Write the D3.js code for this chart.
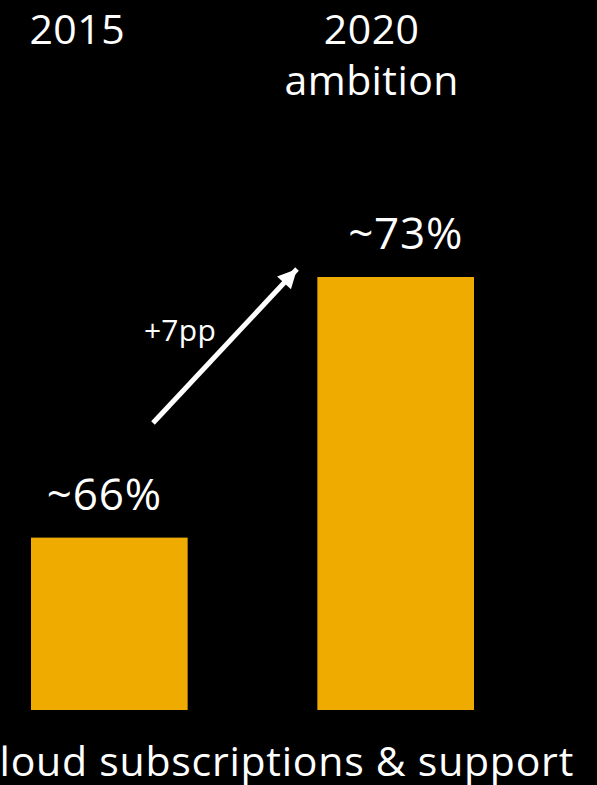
<!DOCTYPE html>
<html>
<head>
<meta charset="utf-8">
<script src="https://cdn.jsdelivr.net/npm/d3@7"></script>
<style>
  html, body { margin: 0; padding: 0; background: #000; }
  svg { display: block; }
  text { font-family: "Open Sans", "Noto Sans", "DejaVu Sans", sans-serif; fill: #fff; }
</style>
</head>
<body>
<script>
// Share of cloud subscriptions & support, 2015 vs. 2020 ambition
const categories = ["2015", "2020"];
const categorySubtitles = ["", "ambition"];
const values = [66, 73];
const valueLabels = ["~66%", "~73%"];
const deltaLabel = "+7pp";
const footerLabel = "Cloud subscriptions & support";

const W = 597, H = 785;
const svg = d3.select("body").append("svg").attr("width", W).attr("height", H);
svg.append("rect").attr("width", W).attr("height", H).attr("fill", "#000");

const x = d3.scaleBand().domain(categories).range([31, 474]).paddingInner(0.453).paddingOuter(0);
const y = d3.scaleLinear().domain([61.37, 73]).range([710, 277]);
const cx = c => x(c) + x.bandwidth() / 2;

// horizontal nudges of the headers and value labels relative to bar centres
const headerShift = [-32, -24];
const valueShift = [-5, 10];

// bars
svg.selectAll("rect.bar").data(values).join("rect")
  .attr("class", "bar")
  .attr("x", (d, i) => x(categories[i]))
  .attr("y", d => y(d))
  .attr("width", x.bandwidth())
  .attr("height", d => y.range()[0] - y(d))
  .attr("fill", "#F0AB00");

// category headers
svg.selectAll("text.cat").data(categories).join("text")
  .attr("class", "cat")
  .attr("x", (d, i) => cx(d) + headerShift[i])
  .attr("y", 44)
  .attr("text-anchor", "middle")
  .attr("font-size", 41)
  .attr("letter-spacing", 0.5)
  .text(d => d);
svg.selectAll("text.sub").data(categorySubtitles).join("text")
  .attr("class", "sub")
  .attr("x", (d, i) => cx(categories[i]) + headerShift[i])
  .attr("y", 95)
  .attr("text-anchor", "middle")
  .attr("font-size", 41)
  .attr("letter-spacing", 0.4)
  .text(d => d);

// value labels
svg.selectAll("text.val").data(values).join("text")
  .attr("class", "val")
  .attr("x", (d, i) => cx(categories[i]) + valueShift[i])
  .attr("y", d => y(d) - 28)
  .attr("text-anchor", "middle")
  .attr("font-size", 44)
  .attr("letter-spacing", 0.8)
  .text((d, i) => valueLabels[i]);

// change arrow
const defs = svg.append("defs");
defs.append("marker")
  .attr("id", "head")
  .attr("viewBox", "0 0 10 10")
  .attr("refX", 10).attr("refY", 5)
  .attr("markerWidth", 4.2).attr("markerHeight", 3.8)
  .attr("markerUnits", "strokeWidth")
  .attr("orient", "auto")
  .append("path").attr("d", "M0,0L10,5L0,10Z").attr("fill", "#fff");

svg.append("line")
  .attr("x1", 153).attr("y1", 423)
  .attr("x2", 297).attr("y2", 269)
  .attr("stroke", "#fff")
  .attr("stroke-width", 5)
  .attr("marker-end", "url(#head)");

svg.append("text")
  .attr("x", 180).attr("y", 341)
  .attr("text-anchor", "middle")
  .attr("font-size", 30)
  .attr("letter-spacing", 0.3)
  .text(deltaLabel);

// footer
svg.append("text")
  .attr("x", 574).attr("y", 776)
  .attr("text-anchor", "end")
  .attr("font-size", 41)
  .attr("letter-spacing", 0.75)
  .text(footerLabel);
</script>
</body>
</html>
